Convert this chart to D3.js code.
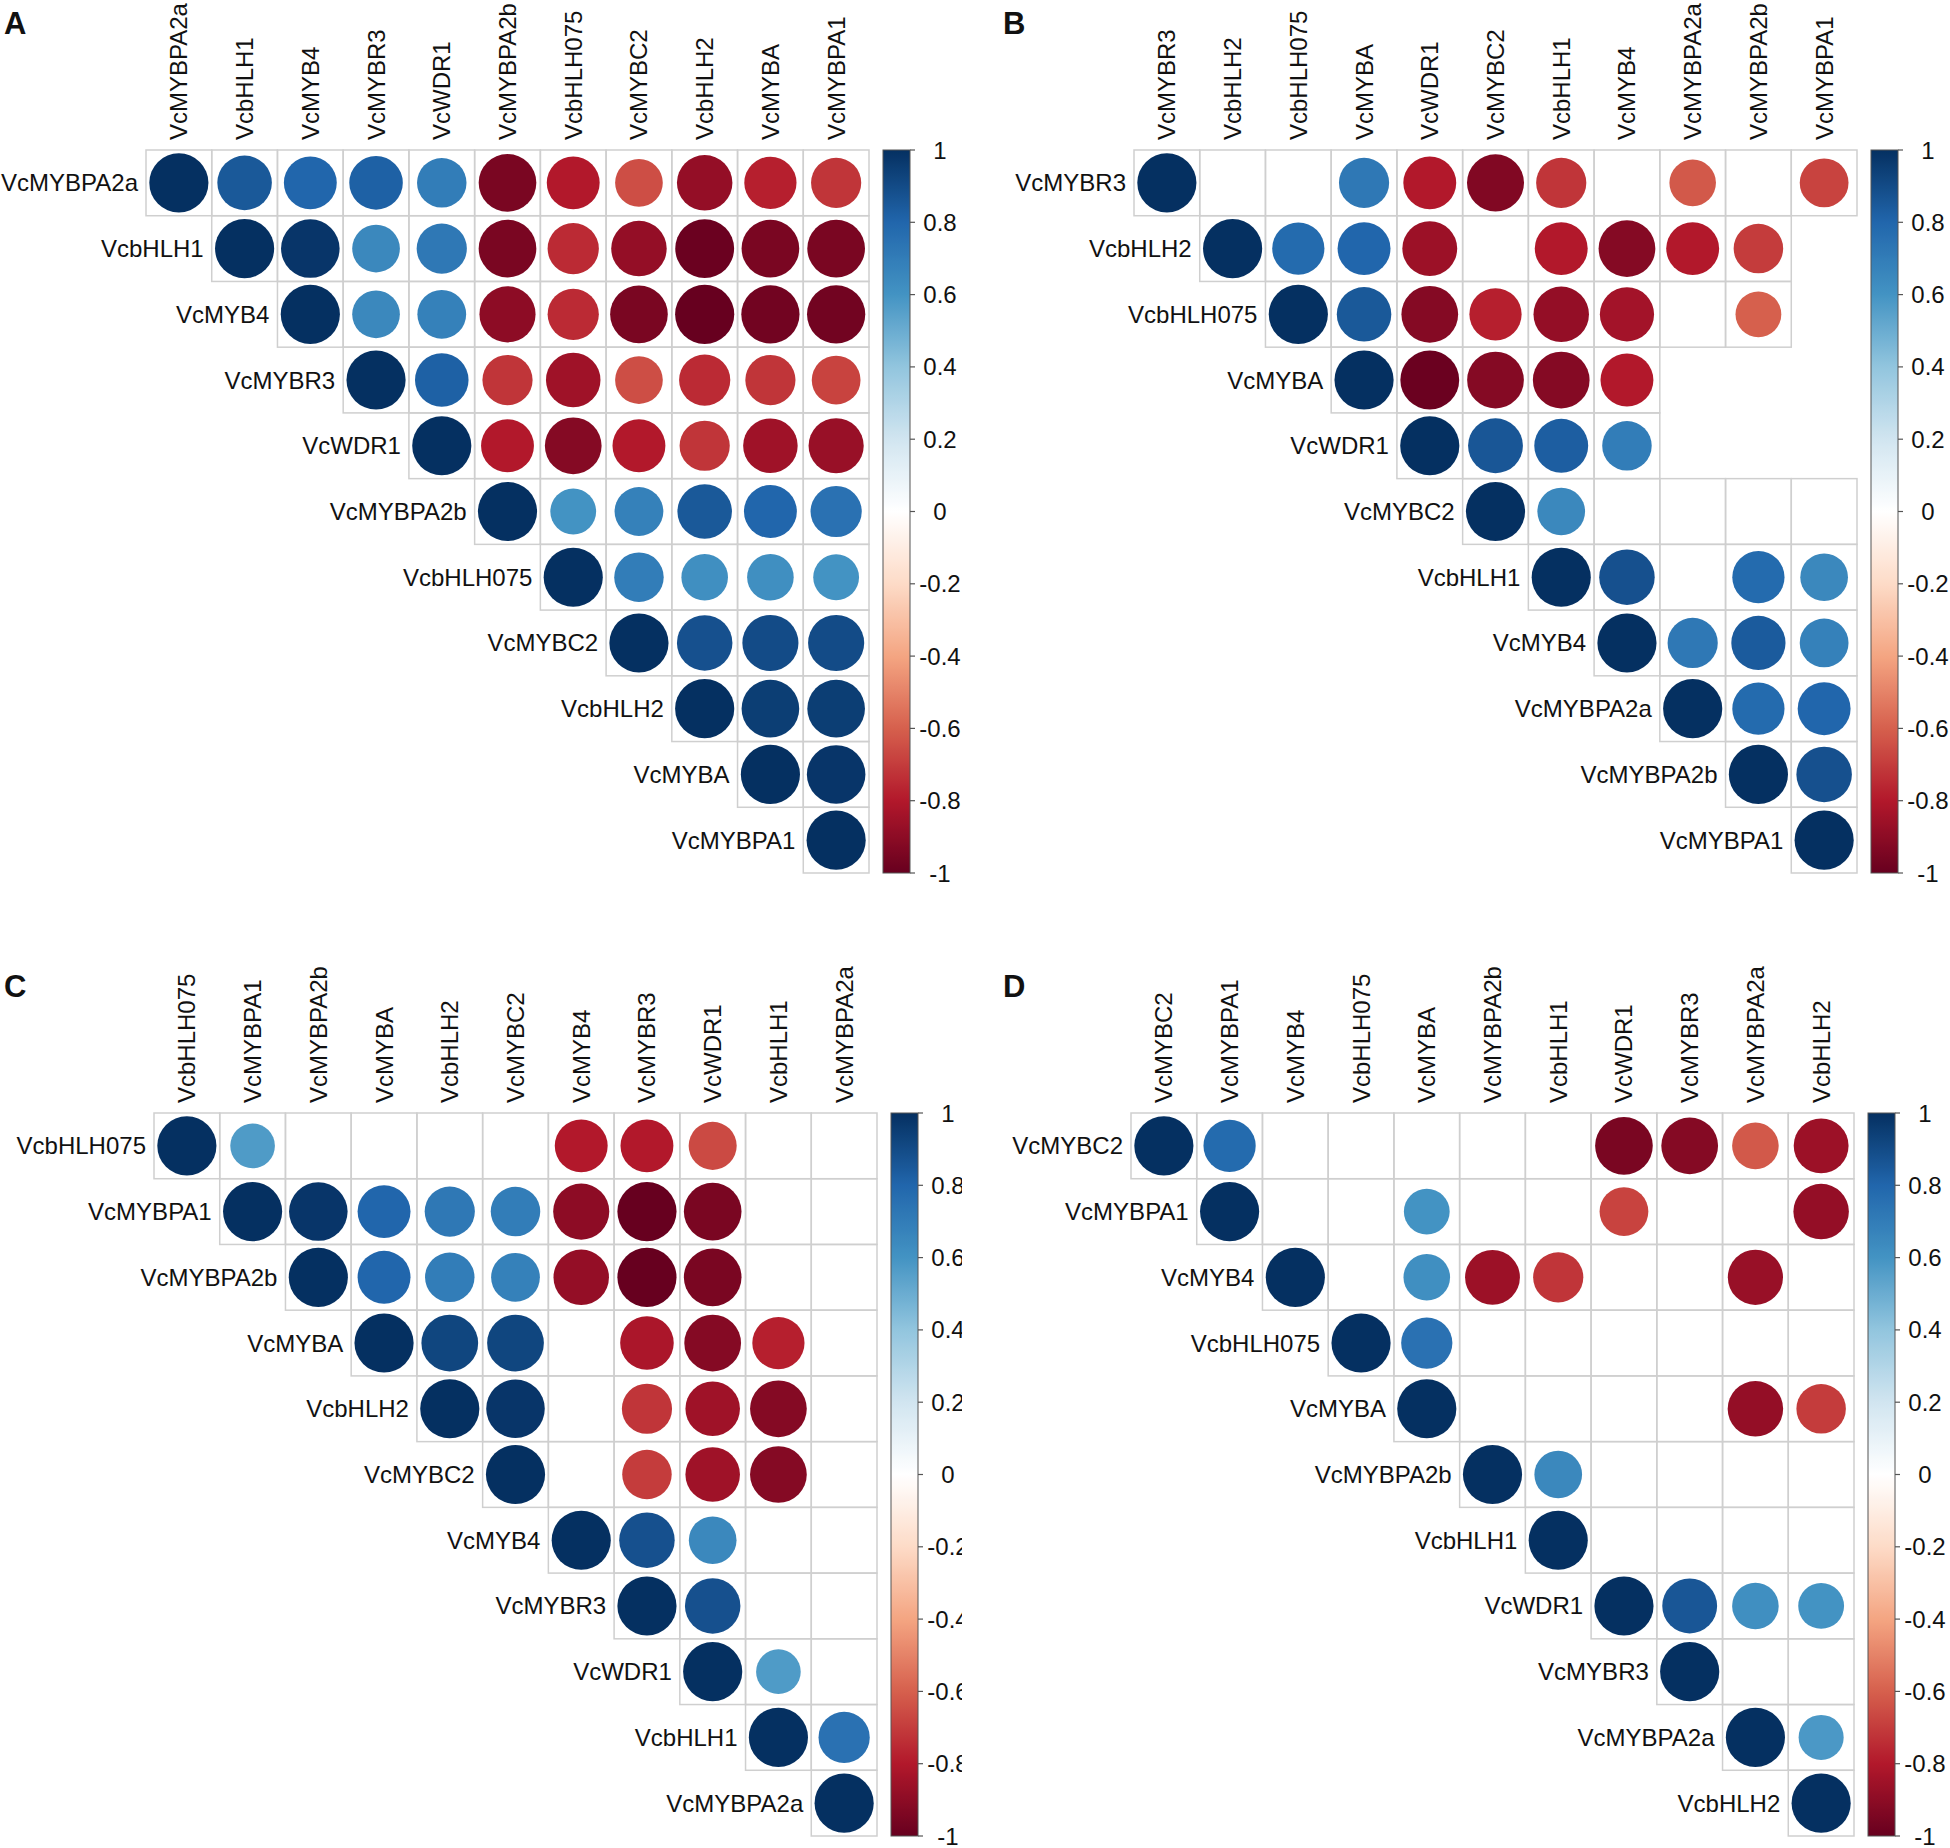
<!DOCTYPE html>
<html>
<head>
<meta charset="utf-8">
<script src="https://cdn.jsdelivr.net/npm/d3@7"></script>
<style>
  body { margin: 0; background: #fff; }
  svg text { font-family: "Liberation Sans", Arial, sans-serif; fill: #111; }
</style>
</head>
<body>
<svg id="chart" width="1950" height="1848"></svg>
<script>
// Correlation panels (upper triangle, each row starts at its diagonal; null = not shown)

const varsA = ['VcMYBPA2a', 'VcbHLH1', 'VcMYB4', 'VcMYBR3', 'VcWDR1', 'VcMYBPA2b',
               'VcbHLH075', 'VcMYBC2', 'VcbHLH2', 'VcMYBA', 'VcMYBPA1'];
const corrA = [
    [1, 0.85, 0.8, 0.82, 0.7, -0.95, -0.8, -0.65, -0.88, -0.78, -0.72],
    [1, 0.98, 0.65, 0.72, -0.95, -0.75, -0.88, -0.99, -0.95, -0.95],
    [1, 0.65, 0.68, -0.9, -0.75, -0.95, -1.0, -0.97, -0.97],
    [1, 0.82, -0.72, -0.85, -0.65, -0.75, -0.72, -0.68],
    [1, -0.8, -0.92, -0.8, -0.72, -0.85, -0.87],
    [1, 0.6, 0.68, 0.85, 0.8, 0.75],
    [1, 0.7, 0.62, 0.62, 0.6],
    [1, 0.88, 0.9, 0.9],
    [1, 0.95, 0.95],
    [1, 0.98],
    [1]
];

const varsB = ['VcMYBR3', 'VcbHLH2', 'VcbHLH075', 'VcMYBA', 'VcWDR1', 'VcMYBC2',
               'VcbHLH1', 'VcMYB4', 'VcMYBPA2a', 'VcMYBPA2b', 'VcMYBPA1'];
const corrB = [
    [1, null, null, 0.72, -0.8, -0.93, -0.72, null, -0.62, null, -0.68],
    [1, 0.78, 0.8, -0.86, null, -0.8, -0.92, -0.8, -0.7],
    [1, 0.85, -0.92, -0.78, -0.88, -0.84, null, -0.6],
    [1, -0.99, -0.92, -0.92, -0.8],
    [1, 0.86, 0.83, 0.7],
    [1, 0.65, null, null, null, null],
    [1, 0.88, null, 0.78, 0.65],
    [1, 0.72, 0.84, 0.68],
    [1, 0.78, 0.8],
    [1, 0.88],
    [1]
];

const varsC = ['VcbHLH075', 'VcMYBPA1', 'VcMYBPA2b', 'VcMYBA', 'VcbHLH2', 'VcMYBC2',
               'VcMYB4', 'VcMYBR3', 'VcWDR1', 'VcbHLH1', 'VcMYBPA2a'];
const corrC = [
    [1, 0.57, null, null, null, null, -0.8, -0.8, -0.66, null, null],
    [1, 0.98, 0.8, 0.72, 0.7, -0.9, -1.0, -0.95, null, null],
    [1, 0.8, 0.7, 0.68, -0.88, -1.0, -0.95, null, null],
    [1, 0.92, 0.92, null, -0.82, -0.92, -0.78, null],
    [1, 0.98, null, -0.72, -0.85, -0.92, null],
    [1, null, -0.7, -0.85, -0.92, null],
    [1, 0.88, 0.65, null, null],
    [1, 0.88, null, null],
    [1, 0.57, null],
    [1, 0.75],
    [1]
];

const varsD = ['VcMYBC2', 'VcMYBPA1', 'VcMYB4', 'VcbHLH075', 'VcMYBA', 'VcMYBPA2b',
               'VcbHLH1', 'VcWDR1', 'VcMYBR3', 'VcMYBPA2a', 'VcbHLH2'];
const corrD = [
    [1, 0.78, null, null, null, null, null, -0.95, -0.92, -0.62, -0.86],
    [1, null, null, 0.6, null, null, -0.68, null, null, -0.88],
    [1, null, 0.62, -0.86, -0.72, null, null, -0.87, null],
    [1, 0.75, null, null, null, null, null, null],
    [1, null, null, null, null, -0.88, -0.7],
    [1, 0.65, null, null, null, null],
    [1, null, null, null, null],
    [1, 0.86, 0.62, 0.6],
    [1, null, null],
    [1, 0.58],
    [1]
];

const legendTicks = [1, 0.8, 0.6, 0.4, 0.2, 0, -0.2, -0.4, -0.6, -0.8, -1];

// corrplot RdBu ramp
const rdbu = ['#67001F', '#B2182B', '#D6604D', '#F4A582', '#FDDBC7', '#FFFFFF',
              '#D1E5F0', '#92C5DE', '#4393C3', '#2166AC', '#053061'];

const color = d3.scaleLinear()
    .domain(d3.range(rdbu.length).map(i => -1 + 2 * i / (rdbu.length - 1)))
    .range(rdbu)
    .interpolate(d3.interpolateRgb);

const svg = d3.select('#chart');
const defs = svg.append('defs');

const grad = defs.append('linearGradient')
    .attr('id', 'cbar')
    .attr('x1', 0).attr('y1', 1).attr('x2', 0).attr('y2', 0);
d3.range(0, 201).forEach(i => {
    const v = -1 + i / 100;
    grad.append('stop').attr('offset', (i / 200)).attr('stop-color', color(v));
});

const GRID = 723;   // grid side in px
const FONT = 24;

const panels = [
    { letter: 'A', vars: varsA, corr: corrA, left: 146, top: 150, lx: 4, ly: 34 },
    { letter: 'B', vars: varsB, corr: corrB, left: 1134, top: 150, lx: 1003, ly: 34 },
    { letter: 'C', vars: varsC, corr: corrC, left: 154, top: 1113, lx: 4, ly: 997, clip: 962 },
    { letter: 'D', vars: varsD, corr: corrD, left: 1131, top: 1113, lx: 1003, ly: 997 }
];

panels.forEach(p => drawPanel(p));

function drawPanel(p) {
    let g = svg.append('g').attr('class', 'panel-' + p.letter);

    if (p.clip) {
        defs.append('clipPath').attr('id', 'clip-' + p.letter)
            .append('rect').attr('x', 0).attr('y', 0).attr('width', p.clip).attr('height', 1848);
        g.attr('clip-path', 'url(#clip-' + p.letter + ')');
    }

    g.append('text')
        .attr('x', p.lx).attr('y', p.ly)
        .style('font-size', '31px')
        .style('font-weight', 'bold')
        .text(p.letter);

    const x = d3.scaleBand().domain(d3.range(p.vars.length)).range([p.left, p.left + GRID]);
    const y = d3.scaleBand().domain(d3.range(p.vars.length)).range([p.top, p.top + GRID]);
    const cell = x.bandwidth();

    // flatten the upper triangle
    const cells = [];
    p.corr.forEach((row, i) => {
        row.forEach((v, k) => cells.push({ i: i, j: i + k, v: v }));
    });

    // grid
    g.append('g').selectAll('rect')
        .data(cells)
        .join('rect')
        .attr('x', d => x(d.j))
        .attr('y', d => y(d.i))
        .attr('width', cell)
        .attr('height', cell)
        .attr('fill', 'none')
        .attr('stroke', '#cfcfcf')
        .attr('stroke-width', 1.5);

    // circles, area ~ |r|
    g.append('g').selectAll('circle')
        .data(cells.filter(d => d.v !== null))
        .join('circle')
        .attr('cx', d => x(d.j) + cell / 2)
        .attr('cy', d => y(d.i) + cell / 2)
        .attr('r', d => 0.45 * cell * Math.sqrt(Math.abs(d.v)))
        .attr('fill', d => color(d.v));

    // column labels
    g.append('g').selectAll('text')
        .data(p.vars)
        .join('text')
        .attr('transform', (d, i) => `translate(${x(i) + cell / 2 + 8.5},${p.top - 10}) rotate(-90)`)
        .style('font-size', FONT + 'px')
        .text(d => d);

    // row labels, left of the diagonal cell
    g.append('g').selectAll('text')
        .data(p.vars)
        .join('text')
        .attr('x', (d, i) => x(i) - 8)
        .attr('y', (d, i) => y(i) + cell / 2 + 8.5)
        .attr('text-anchor', 'end')
        .style('font-size', FONT + 'px')
        .text(d => d);

    // colour legend
    const barX = p.left + GRID + 14;
    const barW = 27;
    const ly = d3.scaleLinear().domain([1, -1]).range([p.top, p.top + GRID]);

    g.append('rect')
        .attr('x', barX).attr('y', p.top)
        .attr('width', barW).attr('height', GRID)
        .attr('fill', 'url(#cbar)')
        .attr('stroke', '#555')
        .attr('stroke-width', 1);

    const tick = g.append('g').selectAll('g')
        .data(legendTicks)
        .join('g')
        .attr('transform', d => `translate(0,${ly(d)})`);

    tick.append('line')
        .attr('x1', barX + barW).attr('x2', barX + barW + 5)
        .attr('stroke', '#555')
        .attr('stroke-width', 1.2);

    tick.append('text')
        .attr('x', barX + barW + 30)
        .attr('y', 8.5)
        .attr('text-anchor', 'middle')
        .style('font-size', FONT + 'px')
        .text(d => d3.format('')(d).replace('−', '-'));
}
</script>
</body>
</html>
